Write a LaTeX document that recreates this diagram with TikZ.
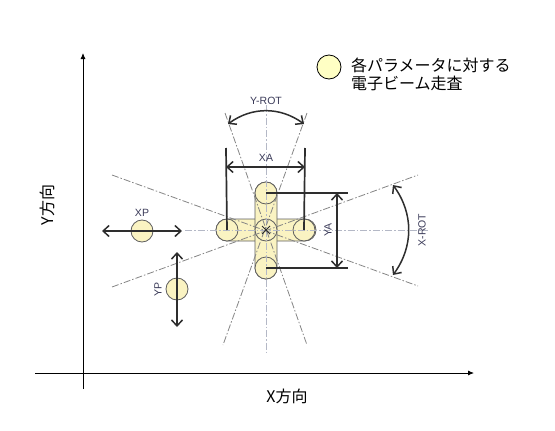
\documentclass[tikz,border=0pt]{standalone}
\usepackage{fontspec}
\usepackage{tikz}
\usetikzlibrary{positioning,arrows.meta,calc}
\newfontfamily\jpfont{Noto Sans CJK JP}
\newfontfamily\lblfont{Liberation Sans}
\definecolor{beamfill}{HTML}{FAF3C2}
\definecolor{beamline}{HTML}{5E5E5E}
\definecolor{dimline}{HTML}{2E2E2E}
\definecolor{cline}{HTML}{B4B8C6}
\definecolor{rline}{HTML}{858585}
\definecolor{lbl}{HTML}{3A3A58}
\definecolor{legfill}{HTML}{FFFFC4}

\begin{document}
\begin{tikzpicture}[x=1pt,y=-1pt,
  beam/.style={circle, draw=beamline, line width=.8pt, fill=beamfill, minimum size=22pt, inner sep=0pt},
  capsule/.style={draw=beamline, line width=.8pt, fill=beamfill, rounded corners=11pt},
  centerdash/.style={cline, line width=.9pt, dash pattern=on 7pt off 2pt on 1.5pt off 2pt},
  rotdash/.style={rline, line width=.8pt, dash pattern=on 7pt off 2pt on 1.5pt off 2pt},
  dimen/.style={dimline, line width=1.7pt},
  dimarrow/.style={dimline, line width=1.5pt, {Straight Barb[length=6pt,width=11pt]}-{Straight Barb[length=6pt,width=11pt]}},
  lab/.style={text=lbl, font=\lblfont\fontsize{10.5}{12}\selectfont, inner sep=0pt},
  jp/.style={font=\jpfont\fontsize{16}{18}\selectfont, inner sep=0pt}]
  \useasboundingbox (0,0) rectangle (555,431);

  % axes
  \draw[line width=.8pt, -{Latex[length=6pt,width=5pt]}] (35,373) -- (474,373);
  \draw[line width=.8pt, -{Latex[length=6pt,width=5pt]}] (83,389) -- (83,53);
  \node[jp] (xdir) at (287,396) {X方向};
  \node[jp, rotate=90] (ydir) at (47,205) {Y方向};

  % legend
  \node[beam, draw=black, fill=legfill, minimum size=24pt] (leg) at (329,67) {};
  \node[jp, anchor=west, align=left] (legtext) at (351,74) {各パラメータに対する\\電子ビーム走査};

  % beam pattern
  \draw[capsule] (216,219) rectangle (316,241);
  \draw[capsule] (255,182) rectangle (277,279);
  \node[beam] (c) at (266,230) {};
  \node[beam] (l) at (227,230) {};
  \node[beam] (r) at (304,230) {};
  \node[beam] (t) at (266,193) {};
  \node[beam] (b) at (266,268) {};

  % center and rotation lines
  \coordinate (hl) at (185,230);
  \coordinate (hr) at (428,230);
  \coordinate (vt) at (266,105);
  \coordinate (vb) at (266,352);
  \draw[centerdash] (hl) -- (hr);
  \draw[centerdash] (vt) -- (vb);
  \coordinate (x1a) at (112,175);
  \coordinate (x1b) at (418,286);
  \coordinate (x2a) at (112,287);
  \coordinate (x2b) at (418,175);
  \draw[rotdash] (x1a) -- (x1b);
  \draw[rotdash] (x2a) -- (x2b);
  \coordinate (y1a) at (225,113);
  \coordinate (y1b) at (307,345);
  \coordinate (y2a) at (307,113);
  \coordinate (y2b) at (223,345);
  \draw[rotdash] (y1a) -- (y1b);
  \draw[rotdash] (y2a) -- (y2b);
  \draw[dimline, line width=1pt] (262,226) -- (270,234) (262,234) -- (270,226);

  % Y-ROT
  \coordinate (yrl) at (228,124);
  \coordinate (yrr) at (304,124);
  \draw[dimarrow] (yrl) to[bend left=36] (yrr);
  \node[lab] (yrot) at (266,101) {Y-ROT};

  % X-ROT
  \coordinate (xrt) at (393,185);
  \coordinate (xrb) at (393,275);
  \draw[dimarrow] (xrt) to[bend left=36] (xrb);
  \node[lab, rotate=90] (xrot) at (422,230) {X-ROT};

  % XA
  \coordinate (xal) at (226,148);
  \coordinate (xar) at (305,148);
  \draw[dimen] (xal) -- (l.center);
  \draw[dimen] (xar) -- (r.center);
  \draw[dimarrow] ($(xal)+(0,19)$) -- ($(xar)+(0,19)$);
  \node[lab] (xa) at (266,158) {XA};

  % YA
  \coordinate (yat) at (348,193);
  \coordinate (yab) at (348,268);
  \draw[dimen] (t.center) -- (yat);
  \draw[dimen] (b.center) -- (yab);
  \draw[dimarrow] ($(yat)+(-11,0)$) -- ($(yab)+(-11,0)$);
  \node[lab, rotate=90] (ya) at (328,230) {YA};

  % XP
  \node[beam] (xp) at (142,231) {};
  \coordinate (xpl) at (102,231);
  \coordinate (xpr) at (182,231);
  \draw[dimarrow] (xpl) -- (xpr);
  \node[lab] (xpt) at (142,213) {XP};

  % YP
  \node[beam] (yp) at (177,289) {};
  \coordinate (ypt) at (177,252);
  \coordinate (ypb) at (177,327);
  \draw[dimarrow] (ypt) -- (ypb);
  \node[lab, rotate=90] (ypl) at (158,289) {YP};
\end{tikzpicture}
\end{document}
